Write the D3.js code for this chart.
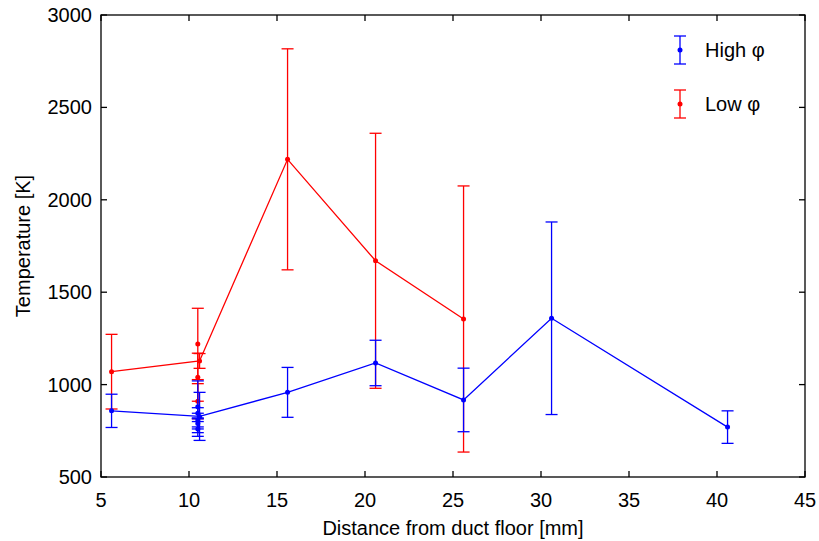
<!DOCTYPE html>
<html>
<head>
<meta charset="utf-8">
<script src="https://cdn.jsdelivr.net/npm/d3@7"></script>
<style>
  body { margin: 0; background: #fff; }
  text { font-family: "Liberation Sans", Arial, sans-serif; }
</style>
</head>
<body>
<div id="chart"></div>
<script>
// Mean values per distance
const highX = [5.6, 10.6, 15.6, 20.6, 25.6, 30.6, 40.6];
const highY = [858, 828, 958, 1117, 917, 1359, 770];
const highErr = [90, 130, 135, 123, 172, 521, 88];

const lowX = [5.6, 10.6, 15.6, 20.6, 25.6];
const lowY = [1070, 1128, 2219, 1670, 1355];
const lowErr = [202, 40, 598, 690, 720];

// Repeated measurements at 10.5 mm
const highRepX = [10.5, 10.5, 10.5, 10.5, 10.5];
const highRepY = [880, 845, 808, 790, 760];
const highRepErr = [140, 30, 37, 30, 40];

const lowRepX = [10.5, 10.5, 10.5];
const lowRepY = [1220, 1040, 910];
const lowRepErr = [193, 130, 95];

const xTicks = [5, 10, 15, 20, 25, 30, 35, 40, 45];
const yTicks = [500, 1000, 1500, 2000, 2500, 3000];

const width = 819;
const height = 541;
const margin = { top: 15, right: 14, bottom: 64, left: 101 };

const svg = d3.select("#chart")
  .append("svg")
    .attr("width", width)
    .attr("height", height);

const x = d3.scaleLinear()
  .domain([5, 45])
  .range([margin.left, width - margin.right]);

const y = d3.scaleLinear()
  .domain([500, 3000])
  .range([height - margin.bottom, margin.top]);

// Axes box with inward ticks
const tickLen = 6;
const axes = svg.append("g").attr("stroke", "#000").attr("stroke-width", 1.3);

axes.append("rect")
  .attr("x", x(5))
  .attr("y", y(3000))
  .attr("width", x(45) - x(5))
  .attr("height", y(500) - y(3000))
  .attr("fill", "none");

xTicks.forEach(t => {
  axes.append("line").attr("x1", x(t)).attr("x2", x(t))
    .attr("y1", y(500)).attr("y2", y(500) - tickLen);
  axes.append("line").attr("x1", x(t)).attr("x2", x(t))
    .attr("y1", y(3000)).attr("y2", y(3000) + tickLen);
});
yTicks.forEach(t => {
  axes.append("line").attr("x1", x(5)).attr("x2", x(5) + tickLen)
    .attr("y1", y(t)).attr("y2", y(t));
  axes.append("line").attr("x1", x(45)).attr("x2", x(45) - tickLen)
    .attr("y1", y(t)).attr("y2", y(t));
});

svg.append("g")
  .selectAll("text")
  .data(xTicks)
  .join("text")
    .attr("x", d => x(d))
    .attr("y", y(500) + 30)
    .attr("text-anchor", "middle")
    .style("font-size", "20px")
    .text(d => d);

svg.append("g")
  .selectAll("text")
  .data(yTicks)
  .join("text")
    .attr("x", x(5) - 9)
    .attr("y", d => y(d) + 7)
    .attr("text-anchor", "end")
    .style("font-size", "20px")
    .text(d => d);

svg.append("text")
  .attr("x", (x(5) + x(45)) / 2)
  .attr("y", 535)
  .attr("text-anchor", "middle")
  .style("font-size", "20px")
  .text("Distance from duct floor [mm]");

svg.append("text")
  .attr("transform", `translate(30, ${(y(500) + y(3000)) / 2}) rotate(-90)`)
  .attr("text-anchor", "middle")
  .style("font-size", "20px")
  .text("Temperature [K]");

// Error bar series
const capW = 6;
const drawSeries = (xs, ys, errs, color, withLine) => {
  const g = svg.append("g").attr("stroke", color).attr("stroke-width", 1.3);
  const pts = xs.map((d, i) => ({ x: d, y: ys[i], e: errs[i] }));

  if (withLine) {
    g.append("path")
      .attr("fill", "none")
      .attr("d", d3.line().x(d => x(d.x)).y(d => y(d.y))(pts));
  }

  const bars = g.selectAll(".bar")
    .data(pts)
    .join("g")
      .attr("class", "bar");
  bars.append("line")
    .attr("x1", d => x(d.x)).attr("x2", d => x(d.x))
    .attr("y1", d => y(d.y - d.e)).attr("y2", d => y(d.y + d.e));
  bars.append("line")
    .attr("x1", d => x(d.x) - capW).attr("x2", d => x(d.x) + capW)
    .attr("y1", d => y(d.y + d.e)).attr("y2", d => y(d.y + d.e));
  bars.append("line")
    .attr("x1", d => x(d.x) - capW).attr("x2", d => x(d.x) + capW)
    .attr("y1", d => y(d.y - d.e)).attr("y2", d => y(d.y - d.e));
  bars.append("circle")
    .attr("cx", d => x(d.x))
    .attr("cy", d => y(d.y))
    .attr("r", 2.5)
    .attr("fill", color)
    .attr("stroke", "none");
};

drawSeries(lowRepX, lowRepY, lowRepErr, "#ff0000", false);
drawSeries(lowX, lowY, lowErr, "#ff0000", true);
drawSeries(highRepX, highRepY, highRepErr, "#0000ff", false);
drawSeries(highX, highY, highErr, "#0000ff", true);

// Legend
const legend = [
  { label: "High φ", color: "#0000ff", cy: 50 },
  { label: "Low φ", color: "#ff0000", cy: 104 }
];
const lg = svg.append("g");
legend.forEach(l => {
  const g = lg.append("g").attr("stroke", l.color).attr("stroke-width", 1.3);
  g.append("line").attr("x1", 680).attr("x2", 680).attr("y1", l.cy - 14).attr("y2", l.cy + 14);
  g.append("line").attr("x1", 674).attr("x2", 686).attr("y1", l.cy - 14).attr("y2", l.cy - 14);
  g.append("line").attr("x1", 674).attr("x2", 686).attr("y1", l.cy + 14).attr("y2", l.cy + 14);
  g.append("circle").attr("cx", 680).attr("cy", l.cy).attr("r", 2.5)
    .attr("fill", l.color).attr("stroke", "none");
  lg.append("text")
    .attr("x", 705)
    .attr("y", l.cy + 7)
    .style("font-size", "20px")
    .text(l.label);
});
</script>
</body>
</html>
